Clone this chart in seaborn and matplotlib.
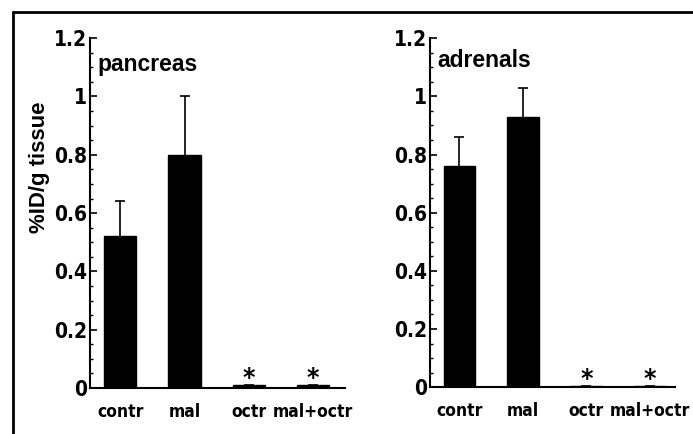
import matplotlib
matplotlib.use("Agg")
import matplotlib.pyplot as plt
import seaborn as sns
import pandas as pd
from matplotlib.lines import Line2D
from matplotlib.ticker import MultipleLocator

sns.set_style("ticks")
plt.rcParams['font.family'] = ['DejaVu Sans']
plt.rcParams['font.weight'] = 'bold'
for k in ["text.color", "axes.labelcolor", "xtick.color", "ytick.color", "axes.edgecolor"]:
    plt.rcParams[k] = "black"

categories = ["contr", "mal", "octr", "mal+octr"]
pancreas_mean = [0.52, 0.80, 0.01, 0.01]
pancreas_err = [0.12, 0.20, 0.0, 0.0]
adrenals_mean = [0.76, 0.93, 0.005, 0.005]
adrenals_err = [0.10, 0.10, 0.0, 0.0]
significant = [False, False, True, True]
panel_titles = ["pancreas", "adrenals"]
ylabel = "%ID/g tissue"
yticks = [0, 0.2, 0.4, 0.6, 0.8, 1.0, 1.2]
yticklabels = ["0", "0.2", "0.4", "0.6", "0.8", "1", "1.2"]

fig = plt.figure(figsize=(6.93, 4.34), dpi=100)
ax1 = fig.add_axes([0.130, 0.106, 0.368, 0.806])
ax2 = fig.add_axes([0.620, 0.108, 0.354, 0.804])

panels = [(ax1, pancreas_mean, pancreas_err, panel_titles[0], 0.03, 0.925, 3.5),
          (ax2, adrenals_mean, adrenals_err, panel_titles[1], 0.033, 0.935, 3.4)]

for ax, means, errs, title, tx, ty, xr in panels:
    df = pd.DataFrame({"cat": categories, "val": means})
    sns.barplot(data=df, x="cat", y="val", color="black", saturation=1,
                width=0.5, errorbar=None, ax=ax, edgecolor="black")
    xs = list(range(len(categories)))
    lower = [0] * len(errs)
    cont = ax.errorbar(xs, means, yerr=[lower, errs], fmt="none", ecolor="black",
                       elinewidth=1.2, capsize=3.6, capthick=1.2)
    caps = cont.lines[1]
    if len(caps) > 1:
        caps[0].set_visible(False)
    for i, s in enumerate(significant):
        if s:
            ax.text(xs[i], means[i] + 0.024, "*", ha="center", va="center",
                    fontsize=17, fontweight="bold")
    ax.set_ylim(0, 1.2)
    ax.set_xlim(-0.47, xr)
    ax.set_yticks(yticks)
    ax.set_yticklabels(yticklabels)
    ax.yaxis.set_minor_locator(MultipleLocator(0.05))
    ax.tick_params(axis="y", which="major", direction="in", length=5, width=1.2, pad=2)
    ax.tick_params(axis="y", which="minor", direction="in", length=2.5, width=1)
    ax.tick_params(axis="x", length=0, pad=11)
    for lab in ax.get_yticklabels():
        lab.set_fontweight("bold")
        lab.set_fontstretch("condensed")
        lab.set_fontsize(15)
    for lab in ax.get_xticklabels():
        lab.set_fontweight("bold")
        lab.set_fontstretch("condensed")
        lab.set_fontsize(12.5)
    sns.despine(ax=ax)
    ax.spines["left"].set_linewidth(1.5)
    ax.spines["bottom"].set_linewidth(1.5)
    ax.set_xlabel("")
    ax.set_ylabel("")
    ax.text(tx, ty, title, transform=ax.transAxes, ha="left", va="center",
            fontsize=16.5, fontweight="bold",
            family=["Liberation Sans", "DejaVu Sans"])

ax1.set_ylabel(ylabel, fontsize=16, fontweight="bold",
               family=["Liberation Sans", "DejaVu Sans"])
ax1.yaxis.set_label_coords(-0.157, 0.63)

# outer frame (top and left edges)
fig.add_artist(Line2D([13/693, 1.0], [1 - 12/434, 1 - 12/434], color="black",
                      lw=2, transform=fig.transFigure))
fig.add_artist(Line2D([13/693, 13/693], [0.0, 1 - 12/434], color="black",
                      lw=2, transform=fig.transFigure))

fig.savefig("out.png", dpi=100)
